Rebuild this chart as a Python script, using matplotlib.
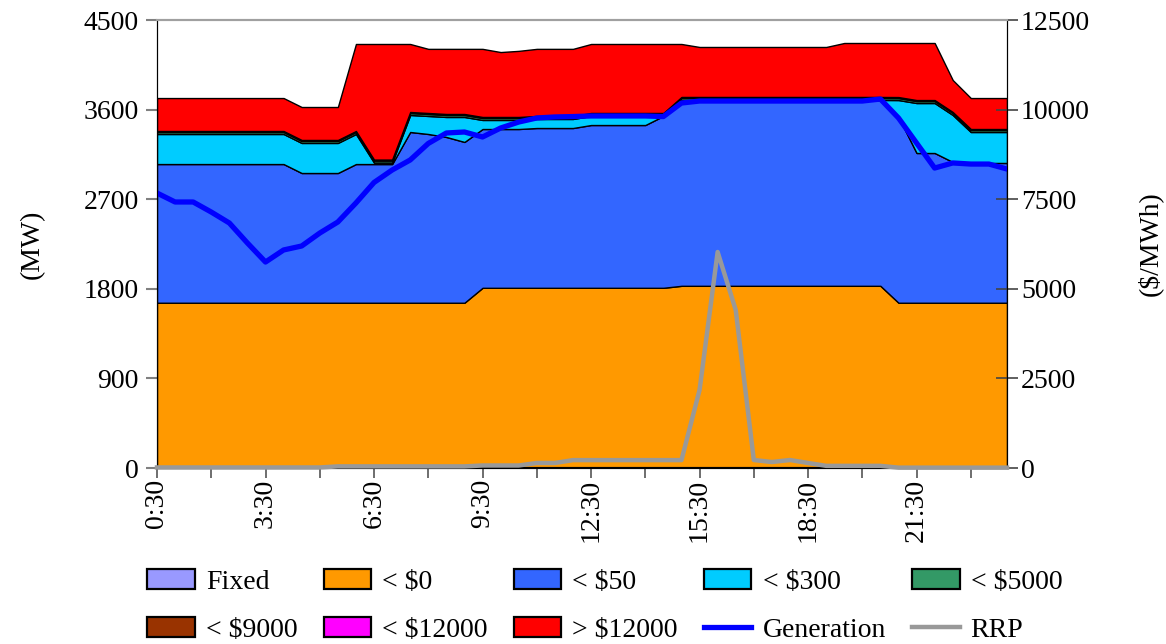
import numpy as np
import matplotlib
matplotlib.use('Agg')
import matplotlib.pyplot as plt
from matplotlib.patches import Patch

plt.rcParams['font.family'] = ['Liberation Serif', 'DejaVu Serif']

# half-hour trading intervals
times = ['0:30', '1:00', '1:30', '2:00', '2:30', '3:00', '3:30', '4:00', '4:30', '5:00',
         '5:30', '6:00', '6:30', '7:00', '7:30', '8:00', '8:30', '9:00', '9:30', '10:00',
         '10:30', '11:00', '11:30', '12:00', '12:30', '13:00', '13:30', '14:00', '14:30', '15:00',
         '15:30', '16:00', '16:30', '17:00', '17:30', '18:00', '18:30', '19:00', '19:30', '20:00',
         '20:30', '21:00', '21:30', '22:00', '22:30', '23:00', '23:30', '24:00']
tick_labels = ['0:30', '3:30', '6:30', '9:30', '12:30', '15:30', '18:30', '21:30']

# offered capacity by price band (MW)
fixed = [0] * 48
lt_0 = [1660, 1660, 1660, 1660, 1660, 1660, 1660, 1660, 1660, 1660,
        1660, 1660, 1660, 1660, 1660, 1660, 1660, 1660, 1810, 1810,
        1810, 1810, 1810, 1810, 1810, 1810, 1810, 1810, 1810, 1830,
        1830, 1830, 1830, 1830, 1830, 1830, 1830, 1830, 1830, 1830,
        1830, 1660, 1660, 1660, 1660, 1660, 1660, 1660]
lt_50 = [1393, 1393, 1393, 1393, 1393, 1393, 1393, 1393, 1303, 1303,
         1303, 1393, 1393, 1393, 1715, 1695, 1665, 1615, 1595, 1595,
         1595, 1605, 1605, 1605, 1635, 1635, 1635, 1635, 1726, 1867,
         1867, 1867, 1867, 1867, 1867, 1867, 1867, 1867, 1867, 1867,
         1867, 1866, 1504, 1504, 1414, 1404, 1404, 1404]
lt_300 = [302, 302, 302, 302, 302, 302, 302, 302, 302, 302,
          302, 302, 15, 15, 171, 181, 201, 251, 91, 91,
          91, 91, 91, 91, 91, 91, 91, 91, 0, 0,
          0, 0, 0, 0, 0, 0, 0, 0, 0, 0,
          0, 170, 502, 502, 472, 311, 311, 311]
lt_5000 = [20] * 48
lt_9000 = [10] * 48
lt_12000 = [0] * 48
gt_12000 = [331, 331, 331, 331, 331, 331, 331, 331, 331, 331,
            331, 874, 1161, 1161, 683, 644, 654, 654, 684, 652,
            664, 674, 674, 674, 693, 693, 693, 693, 693, 532,
            502, 502, 502, 502, 502, 502, 502, 502, 542, 542,
            542, 543, 573, 573, 321, 311, 311, 311]

generation = [2762, 2672, 2672, 2571, 2461, 2260, 2069, 2190, 2230, 2360,
              2471, 2662, 2868, 2993, 3094, 3260, 3365, 3375, 3325, 3415,
              3475, 3516, 3526, 3530, 3536, 3536, 3536, 3536, 3530, 3666,
              3686, 3686, 3686, 3686, 3686, 3686, 3686, 3686, 3686, 3686,
              3706, 3516, 3264, 3013, 3064, 3053, 3053, 3003]
rrp = [15, 15, 15, 15, 15, 15, 15, 15, 15, 15,
       45, 45, 45, 45, 45, 45, 45, 45, 70, 70,
       70, 140, 140, 220, 220, 220, 220, 220, 220, 220,
       2176, 6027, 4408, 223, 167, 223, 140, 60, 60, 60,
       60, 10, 10, 10, 10, 10, 10, 10]

band_names = ['Fixed', '< $0', '< $50', '< $300', '< $5000', '< $9000', '< $12000', '> $12000']
band_colors = ['#9999FF', '#FF9900', '#3366FF', '#00CCFF', '#339966', '#993300', '#FF00FF', '#FF0000']

x = np.arange(len(times))

fig = plt.figure(figsize=(11.66, 6.44), dpi=100)
ax = fig.add_axes([157 / 1166, 1 - 468 / 644, 850 / 1166, 448 / 644])

polys = ax.stackplot(x, fixed, lt_0, lt_50, lt_300, lt_5000, lt_9000, lt_12000, gt_12000,
                     colors=band_colors, edgecolor='black', linewidth=1.0, labels=band_names)
gen_line, = ax.plot(x, generation, color='#0000FF', lw=3.8, label='Generation', zorder=5)

ax.set_xlim(0, 47)
ax.set_ylim(0, 4500)
ax.set_yticks(np.arange(0, 4501, 900))
ax.set_xticks([times.index(t) for t in tick_labels])
ax.set_xticklabels(tick_labels, rotation=90)
ax.set_xticks(np.arange(3, 47, 6), minor=True)
ax.tick_params(axis='x', which='both', direction='out', length=7, width=1.2,
               color='#555555', labelsize=20, pad=1)
ax.tick_params(axis='y', direction='out', length=8, width=1.5, color='#808080',
               labelsize=20, pad=5)
ax.set_ylabel('(MW)', fontsize=20, labelpad=28)

ax2 = ax.twinx()
rrp_line, = ax2.plot(x, rrp, color='#999999', lw=3.2, label='RRP', clip_on=False, zorder=6)
ax2.set_ylim(0, 12500)
ax2.set_yticks(np.arange(0, 12501, 2500))
ax2.tick_params(axis='y', direction='inout', length=16, width=1.2, color='#444444',
                labelsize=20, pad=2)
ax2.set_ylabel('($/MWh)', fontsize=20, labelpad=34)

for a in (ax, ax2):
    a.spines['top'].set_color('#A0A0A0')
    a.spines['top'].set_linewidth(1.5)
    a.spines['left'].set_color('black')
    a.spines['right'].set_color('black')
    a.spines['bottom'].set_color('black')
    a.spines['bottom'].set_linewidth(1.5)

# legend: 2 rows x 5 columns, filled row by row
band_patches = [Patch(facecolor=c, edgecolor='black', linewidth=1.6) for c in band_colors]
handles = band_patches + [gen_line, rrp_line]
labels = band_names + ['Generation', 'RRP']
order = [0, 5, 1, 6, 2, 7, 3, 8, 4, 9]
fig.legend([handles[i] for i in order], [labels[i] for i in order],
           loc='lower left', bbox_to_anchor=(0.105, -0.037), ncol=5, frameon=False,
           fontsize=20, handlelength=1.7, handleheight=0.75, handletextpad=0.4,
           columnspacing=0.95, labelspacing=0.8)

fig.savefig('out.png', dpi=100)
